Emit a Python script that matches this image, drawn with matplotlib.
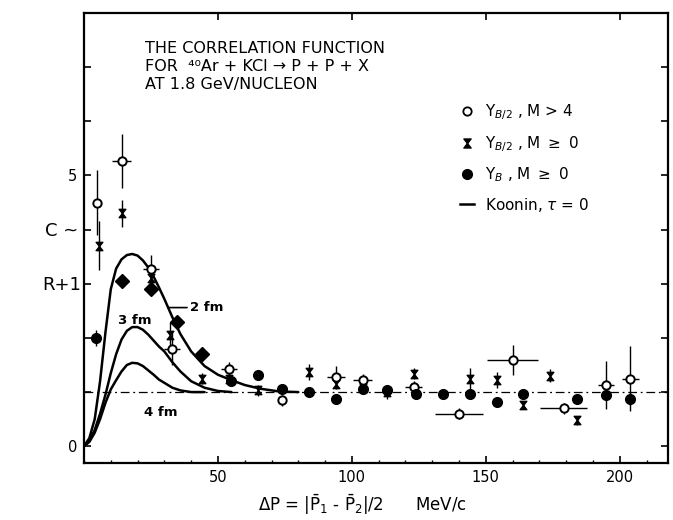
import matplotlib
matplotlib.use("Agg")
import matplotlib.pyplot as plt
from matplotlib.path import Path
from matplotlib.lines import Line2D
from matplotlib.ticker import MultipleLocator, FixedLocator

# Koonin model (tau = 0) for source radii of 2, 3 and 4 fm
q_2fm = [0, 2, 4, 6, 8, 10, 12, 14, 16, 18, 20, 22, 24, 26, 28, 30, 33, 36, 40, 45, 50, 55, 60, 66, 73, 80]
c_2fm = [0, 0.15, 0.5, 1.2, 2.1, 2.9, 3.28, 3.45, 3.53, 3.55, 3.52, 3.43, 3.3, 3.13, 2.93, 2.72, 2.38, 2.07,
         1.75, 1.48, 1.32, 1.22, 1.13, 1.06, 1.01, 1.0]
q_3fm = [0, 2, 4, 6, 8, 10, 12, 14, 16, 18, 20, 22, 24, 26, 28, 30, 33, 36, 40, 45, 50, 55]
c_3fm = [0, 0.1, 0.3, 0.6, 0.95, 1.35, 1.7, 1.97, 2.13, 2.2, 2.2, 2.15, 2.06, 1.95, 1.84, 1.75, 1.55, 1.38,
         1.2, 1.08, 1.02, 1.0]
q_4fm = [0, 2, 4, 6, 8, 10, 12, 14, 16, 18, 20, 22, 24, 26, 28, 30, 33, 36, 40, 45]
c_4fm = [0, 0.08, 0.25, 0.5, 0.8, 1.05, 1.22, 1.38, 1.5, 1.54, 1.53, 1.48, 1.4, 1.32, 1.23, 1.17, 1.08, 1.03,
         1.0, 1.0]

# Y_B/2, M > 4 (open circles)
q_a = [5, 14, 25, 33, 54, 74, 94, 104, 123, 140, 160, 179, 195, 204]
c_a = [4.5, 5.26, 3.28, 1.8, 1.43, 0.85, 1.28, 1.22, 1.1, 0.6, 1.59, 0.7, 1.13, 1.25]
yerr_a = [0.6, 0.5, 0.25, 0.3, 0.12, 0.1, 0.2, 0.12, 0.1, 0.1, 0.28, 0.1, 0.45, 0.6]
xerr_a = [0, 3.5, 3, 3, 3, 0, 3.4, 3.5, 3, 8.8, 9.4, 8.7, 3, 3]

# Y_B/2, M >= 0 (hourglass symbols)
q_b = [5.5, 14, 25, 32, 44, 54, 65, 84, 94, 104, 113, 123, 144, 154, 164, 174, 184]
c_b = [3.7, 4.3, 3.1, 2.05, 1.25, 1.25, 1.03, 1.37, 1.15, 1.08, 1.0, 1.34, 1.25, 1.22, 0.76, 1.3, 0.48]
yerr_b = [0.45, 0.25, 0.15, 0.25, 0.1, 0.1, 0.1, 0.15, 0.1, 0.1, 0.12, 0.1, 0.2, 0.15, 0.08, 0.12, 0.08]

# Y_B, M >= 0 (filled symbols)
q_c = [4.6, 14, 25, 34.6, 44, 55, 65, 74, 84, 94, 104, 113, 124, 134, 144, 154, 164, 184, 195, 204]
c_c = [2.0, 3.06, 2.9, 2.29, 1.7, 1.2, 1.31, 1.06, 1.0, 0.88, 1.05, 1.03, 0.97, 0.97, 0.97, 0.82, 0.97,
       0.88, 0.94, 0.88]
yerr_c = [0.15, 0.08, 0.08, 0.08, 0.08, 0.06, 0.06, 0.06, 0.06, 0.06, 0.06, 0.1, 0.06, 0.06, 0.06, 0.06,
          0.06, 0.06, 0.08, 0.12]

x_ticks = [50, 100, 150, 200]
y_ticks = [0, 5]

plt.rcParams["font.family"] = ["DejaVu Sans"]

fig = plt.figure(figsize=(6.73, 5.2), dpi=100)
ax = fig.add_axes([84 / 673, 57 / 520, 584 / 673, 450 / 520])
ax.set_xlim(0, 218)
ax.set_ylim(-0.31, 8.0)

# hourglass marker
hg = Path([(-0.8, 1), (0.8, 1), (0, 0), (-0.8, 1), (-0.8, -1), (0.8, -1), (0, 0), (-0.8, -1)],
          [Path.MOVETO, Path.LINETO, Path.LINETO, Path.CLOSEPOLY,
           Path.MOVETO, Path.LINETO, Path.LINETO, Path.CLOSEPOLY])

ax.axhline(1.0, color="black", lw=0.9, dashes=(7, 3, 1.5, 3), zorder=1)

for q, c in [(q_2fm, c_2fm), (q_3fm, c_3fm), (q_4fm, c_4fm)]:
    ax.plot(q, c, color="black", lw=1.8, solid_capstyle="round", zorder=2)

ax.errorbar(q_a, c_a, yerr=yerr_a, xerr=xerr_a, fmt="o", mfc="white", mec="black", mew=1.4, ms=6,
            ecolor="black", elinewidth=1.0, capsize=0, zorder=4)
ax.errorbar(q_b, c_b, yerr=yerr_b, fmt="none", ecolor="black", elinewidth=1.0, capsize=0, zorder=3)
ax.plot(q_b, c_b, ls="none", marker=hg, ms=6, color="black", zorder=4)

n_low = 4
ax.errorbar(q_c, c_c, yerr=yerr_c, fmt="none", ecolor="black", elinewidth=1.0, capsize=0, zorder=3)
ax.plot(q_c[:1], c_c[:1], ls="none", marker="o", ms=7, color="black", zorder=5)
ax.plot(q_c[1:1 + n_low], c_c[1:1 + n_low], ls="none", marker="D", ms=7.5, color="black", zorder=5)
ax.plot(q_c[1 + n_low:], c_c[1 + n_low:], ls="none", marker="o", ms=7, color="black", zorder=5)

# curve labels
ax.annotate("2 fm", xy=(31.3, 2.56), xytext=(39.5, 2.56), fontsize=9.5, fontweight="bold",
            va="center", ha="left", arrowprops=dict(arrowstyle="-", lw=1.2, color="black",
                                                     shrinkA=0, shrinkB=0))
ax.text(19, 2.33, "3 fm", fontsize=9.5, fontweight="bold", ha="center", va="center")
ax.text(28.6, 0.63, "4 fm", fontsize=9.5, fontweight="bold", ha="center", va="center")

# heading
tx = (145 - 84) / 584
for yy, s in [(0.922, "THE CORRELATION FUNCTION"),
              (0.880, "FOR  \u2074\u2070Ar + KCl \u2192 P + P + X"),
              (0.840, "AT 1.8 GeV/NUCLEON")]:
    ax.text(tx, yy, s, transform=ax.transAxes, fontsize=11.5, ha="left", va="center")

# legend
handles = [
    Line2D([], [], ls="none", marker="o", mfc="white", mec="black", mew=1.3, ms=6),
    Line2D([], [], ls="none", marker=hg, ms=6.5, color="black"),
    Line2D([], [], ls="none", marker="o", ms=7, color="black"),
    Line2D([], [], color="black", lw=1.8),
]
labels = [r"Y$_{B/2}$ , M > 4", r"Y$_{B/2}$ , M $\geq$ 0", r"Y$_{B}$ , M $\geq$ 0",
          r"Koonin, $\tau$ = 0"]
ax.legend(handles, labels, loc="upper left", bbox_to_anchor=(0.644, 0.802), frameon=False,
          fontsize=11, handlelength=0.9, handletextpad=0.7, labelspacing=0.76, borderpad=0,
          borderaxespad=0)

# axes frame and ticks
for sp in ax.spines.values():
    sp.set_linewidth(1.6)
ax.xaxis.set_major_locator(FixedLocator(x_ticks))
ax.xaxis.set_minor_locator(MultipleLocator(10))
ax.set_xticklabels([str(t) for t in x_ticks])
ax.set_yticks(list(range(0, 8)))
ax.set_yticklabels([str(t) if t in y_ticks else "" for t in range(0, 8)])
ax.tick_params(axis="both", which="major", direction="in", length=5, width=1.2,
               top=True, right=True, labelsize=10.5, pad=5)
ax.tick_params(axis="x", which="minor", direction="in", length=2.5, width=1.0, top=False)

# axis titles
fig.text(62 / 673, 1 - 231 / 520, "C ~", fontsize=13, ha="center", va="center")
fig.text(62 / 673, 1 - 285 / 520, "R+1", fontsize=13, ha="center", va="center")
fig.text(362 / 673, 1 - 505 / 520,
         r"$\Delta$P = |$\mathrm{\bar{P}_1}$ - $\mathrm{\bar{P}_2}$|/2      MeV/c",
         fontsize=12, ha="center", va="center")

fig.savefig("out.png", dpi=100)
